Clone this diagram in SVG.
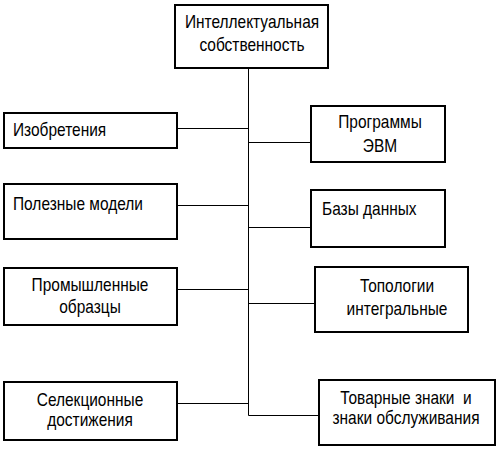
<svg xmlns="http://www.w3.org/2000/svg" width="498" height="452" viewBox="0 0 498 452">
<style>
.box{fill:#fff;stroke:#000;stroke-width:2}
.ln{stroke:#000;stroke-width:1;fill:none}
text{font-family:"Liberation Sans",Arial,sans-serif;font-size:18px;fill:#000}
.c{text-anchor:middle}
</style>
<rect width="498" height="452" fill="#fff"/>
<g id="connectors">
<line class="ln" x1="248.5" y1="68" x2="248.5" y2="415.5"/>
<line class="ln" x1="177" y1="128.5" x2="248.5" y2="128.5"/>
<line class="ln" x1="177" y1="205.5" x2="248.5" y2="205.5"/>
<line class="ln" x1="177" y1="289.5" x2="248.5" y2="289.5"/>
<line class="ln" x1="177" y1="403.5" x2="248.5" y2="403.5"/>
<line class="ln" x1="248.5" y1="142.5" x2="311" y2="142.5"/>
<line class="ln" x1="248.5" y1="227.5" x2="311" y2="227.5"/>
<line class="ln" x1="248.5" y1="303.5" x2="315" y2="303.5"/>
<line class="ln" x1="248.5" y1="415.5" x2="319" y2="415.5"/>
</g>
<g id="n-root"><rect class="box" x="175" y="5" width="153" height="63"/>
<text class="c" transform="translate(252 28) scale(0.86 1)">Интеллектуальная</text><text class="c" transform="translate(252 51) scale(0.86 1)">собственность</text></g>
<g id="n-izobr"><rect class="box" x="4" y="113" width="173" height="35"/>
<text transform="translate(13 136) scale(0.86 1)">Изобретения</text></g>
<g id="n-polez"><rect class="box" x="4" y="184" width="173" height="55"/>
<text transform="translate(13 210) scale(0.86 1)">Полезные модели</text></g>
<g id="n-prom"><rect class="box" x="4" y="268" width="173" height="57"/>
<text class="c" transform="translate(90 291) scale(0.86 1)">Промышленные</text><text class="c" transform="translate(90 313) scale(0.86 1)">образцы</text></g>
<g id="n-selek"><rect class="box" x="4" y="382" width="173" height="58"/>
<text class="c" transform="translate(90 406) scale(0.86 1)">Селекционные</text><text class="c" transform="translate(90 426) scale(0.86 1)">достижения</text></g>
<g id="n-prog"><rect class="box" x="311" y="106" width="134" height="56"/>
<text class="c" transform="translate(380 128) scale(0.86 1)">Программы</text><text class="c" transform="translate(380 152) scale(0.86 1)">ЭВМ</text></g>
<g id="n-bazy"><rect class="box" x="311" y="190" width="134" height="57"/>
<text transform="translate(322 215) scale(0.86 1)">Базы данных</text></g>
<g id="n-topol"><rect class="box" x="315" y="267" width="153" height="65"/>
<text class="c" transform="translate(397 292) scale(0.86 1)">Топологии</text><text class="c" transform="translate(397 315) scale(0.86 1)">интегральные</text></g>
<g id="n-tovar"><rect class="box" x="319" y="380" width="176" height="65"/>
<text class="c" transform="translate(406 404) scale(0.86 1)" xml:space="preserve">Товарные знаки  и</text><text class="c" transform="translate(406 424) scale(0.86 1)">знаки обслуживания</text></g>
</svg>
